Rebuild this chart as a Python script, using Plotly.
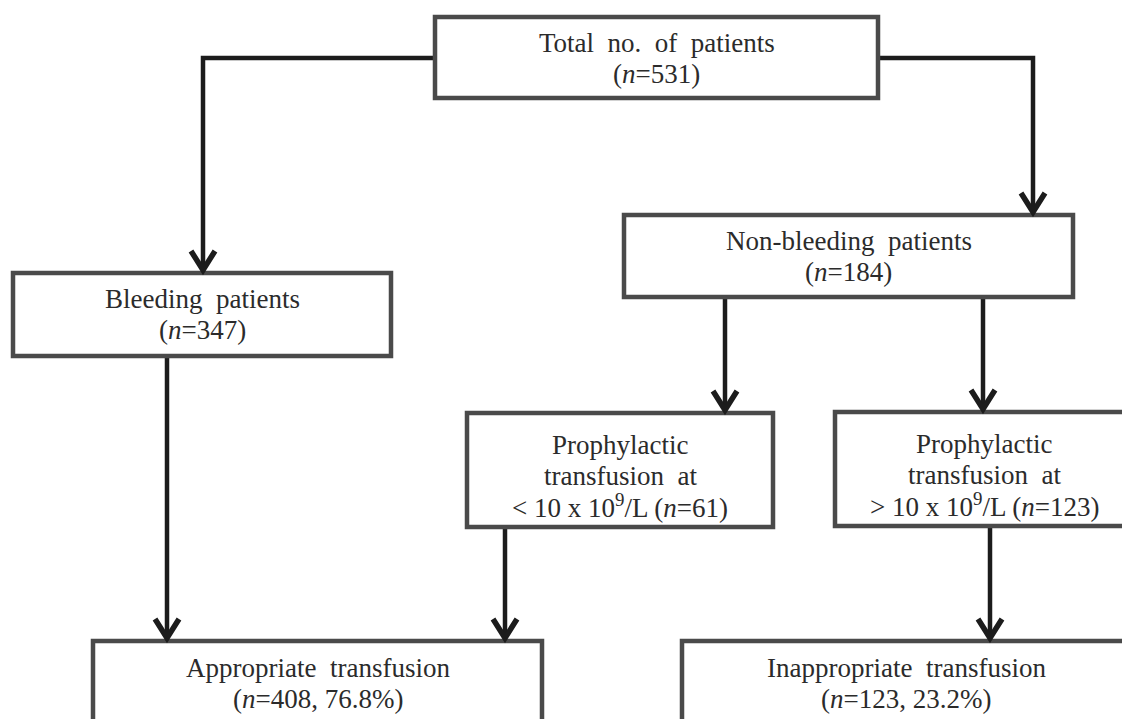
import plotly.graph_objects as go

# ---------------- data ----------------
node_ids = ["total", "bleeding", "nonbleeding", "proph_low", "proph_high",
            "appropriate", "inappropriate"]
node_titles = ["Total no. of patients", "Bleeding patients", "Non-bleeding patients",
               "Prophylactic transfusion at", "Prophylactic transfusion at",
               "Appropriate transfusion", "Inappropriate transfusion"]
node_n = [531, 347, 184, 61, 123, 408, 123]
node_pct = [None, None, None, None, None, 76.8, 23.2]
node_threshold_sign = [None, None, None, "&lt;", "&gt;", None, None]
threshold_value = "10 x 10<sup>9</sup>/L"

edges_src = ["total", "total", "nonbleeding", "nonbleeding", "bleeding", "proph_low", "proph_high"]
edges_dst = ["bleeding", "nonbleeding", "proph_low", "proph_high", "appropriate", "appropriate", "inappropriate"]

# ---------------- layout (pixel canvas) ----------------
W, H = 1122, 719
boxes = {
    "total":         dict(x0=435, x1=878, y0=17, y1=98, ty=43),
    "bleeding":      dict(x0=13, x1=391, y0=273, y1=356, ty=299),
    "nonbleeding":   dict(x0=624, x1=1073, y0=215, y1=297, ty=241),
    "proph_low":     dict(x0=467, x1=773, y0=413, y1=527, ty=445),
    "proph_high":    dict(x0=835, x1=1133, y0=412, y1=526, ty=444),
    "appropriate":   dict(x0=93, x1=542, y0=641, y1=760, ty=668),
    "inappropriate": dict(x0=682, x1=1130, y0=641, y1=760, ty=668),
}
edge_route = [
    dict(kind="elbow_left", y=58, x=203),
    dict(kind="elbow_right", y=58, x=1033),
    dict(kind="down", x=725),
    dict(kind="down", x=983),
    dict(kind="down", x=167),
    dict(kind="down", x=505),
    dict(kind="down", x=990),
]
LINE_SP = 30.5
FONT = "Liberation Serif"
FS = 27
TXT = "#2b2b2b"
BOX_COL = "#4a4a4a"
ARR_COL = "#1c1c1c"
SP = "\u2002"


def node_lines(i):
    title = node_titles[i].replace(" ", SP)
    n = node_n[i]
    if node_threshold_sign[i] is not None:
        words = node_titles[i].split(" ")
        return [words[0], SP.join(words[1:]),
                f"{node_threshold_sign[i]} {threshold_value} (<i>n</i>={n})"]
    if node_pct[i] is not None:
        return [title, f"(<i>n</i>={n}, {node_pct[i]}%)"]
    return [title, f"(<i>n</i>={n})"]


shapes = []
annotations = []

for i, nid in enumerate(node_ids):
    b = boxes[nid]
    shapes.append(dict(type="rect", xref="x", yref="y", x0=b["x0"], x1=b["x1"],
                       y0=b["y0"], y1=b["y1"], line=dict(color=BOX_COL, width=4.5),
                       fillcolor="white", layer="above"))
    cx = (b["x0"] + b["x1"]) / 2
    for k, txt in enumerate(node_lines(i)):
        annotations.append(dict(x=cx, y=b["ty"] + k * LINE_SP, xref="x", yref="y",
                                text=txt, showarrow=False, xanchor="center",
                                yanchor="middle",
                                font=dict(family=FONT, size=FS, color=TXT)))


def arrowhead(x, tip):
    return dict(type="path", xref="x", yref="y",
                path=f"M {x-12},{tip-19} L {x},{tip} L {x+12},{tip-19}",
                line=dict(color=ARR_COL, width=5.5), layer="above")


for s, d, r in zip(edges_src, edges_dst, edge_route):
    bs, bd = boxes[s], boxes[d]
    tip = bd["y0"] - 3
    if r["kind"] == "elbow_left":
        path = f"M {bs['x0']},{r['y']} L {r['x']},{r['y']} L {r['x']},{tip}"
    elif r["kind"] == "elbow_right":
        path = f"M {bs['x1']},{r['y']} L {r['x']},{r['y']} L {r['x']},{tip}"
    else:
        path = f"M {r['x']},{bs['y1']} L {r['x']},{tip}"
    shapes.append(dict(type="path", xref="x", yref="y", path=path,
                       line=dict(color=ARR_COL, width=4.5), layer="below"))
    shapes.append(arrowhead(r["x"], tip))

fig = go.Figure()
fig.update_layout(
    width=W, height=H,
    margin=dict(l=0, r=0, t=0, b=0),
    paper_bgcolor="white", plot_bgcolor="white",
    xaxis=dict(range=[0, W], visible=False, fixedrange=True),
    yaxis=dict(range=[H, 0], visible=False, fixedrange=True),
    shapes=shapes, annotations=annotations, showlegend=False,
)
fig.write_html(
    "out.html",
    config={"displayModeBar": False, "staticPlot": True},
    post_script="document.body.style.margin='0';document.body.style.overflow='hidden';",
)
